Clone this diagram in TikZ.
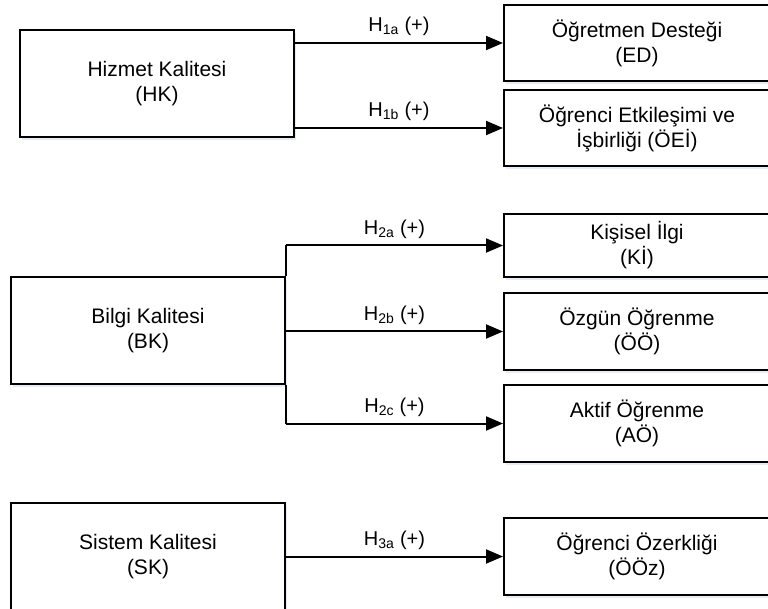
\documentclass[tikz,border=0pt]{standalone}
\usepackage{fontspec}
\setmainfont{Liberation Sans}
\usetikzlibrary{arrows.meta,shadows}
\tikzset{
  box/.style={draw=black, line width=2pt, fill=white, align=center, inner sep=0pt,
    font=\fontsize{21}{25}\selectfont,
    drop shadow={shadow xshift=2pt, shadow yshift=-3pt, fill={rgb,255:red,215;green,222;blue,238}, opacity=0.6}},
  arr/.style={line width=2pt, -{Triangle[length=17pt,width=14pt]}},
  conn/.style={line width=2pt},
  lbl/.style={font=\fontsize{20}{22}\selectfont, inner sep=0pt},
}
\begin{document}
\begin{tikzpicture}[x=1pt,y=-1pt]
\useasboundingbox (0,0) rectangle (768,609);
\clip (0,0) rectangle (768,609);
% left boxes
\node[box, minimum width=274pt, minimum height=107pt] (HK) at (157,83.5) {Hizmet Kalitesi\\(HK)};
\node[box, minimum width=274pt, minimum height=107pt] (BK) at (148,330.5) {Bilgi Kalitesi\\(BK)};
\node[box, minimum width=274pt, minimum height=107pt] (SK) at (148,556.5) {Sistem Kalitesi\\(SK)};
% right boxes
\node[box, minimum width=266pt, minimum height=76pt] (ED) at (637,43) {Öğretmen Desteği\\(ED)};
\node[box, minimum width=266pt, minimum height=76pt] (OEI) at (637,128) {Öğrenci Etkileşimi ve\\İşbirliği (ÖEİ)};
\node[box, minimum width=266pt, minimum height=63pt] (KI) at (637,245.5) {Kişisel İlgi\\(Kİ)};
\node[box, minimum width=266pt, minimum height=77pt] (OO) at (637,331.5) {Özgün Öğrenme\\(ÖÖ)};
\node[box, minimum width=266pt, minimum height=77pt] (AO) at (637,423.5) {Aktif Öğrenme\\(AÖ)};
\node[box, minimum width=266pt, minimum height=77pt] (OOz) at (637,556.5) {Öğrenci Özerkliği\\(ÖÖz)};
% row 1
\draw[arr] (HK.east |- ED.west) -- node[lbl, above=6pt] (l1a) {H\textsubscript{1a} (+)} (ED.west);
\draw[arr] (HK.east |- OEI.west) -- node[lbl, above=6pt] (l1b) {H\textsubscript{1b} (+)} (OEI.west);
% row 2
\draw[conn] (BK.north east) -- (BK.north east |- KI.west);
\draw[conn] (BK.south east) -- (BK.south east |- AO.west);
\draw[arr] (BK.east |- KI.west) -- node[lbl, above=6pt] (l2a) {H\textsubscript{2a} (+)} (KI.west);
\draw[arr] (BK.east |- OO.west) -- node[lbl, above=6pt] (l2b) {H\textsubscript{2b} (+)} (OO.west);
\draw[arr] (BK.east |- AO.west) -- node[lbl, above=6pt] (l2c) {H\textsubscript{2c} (+)} (AO.west);
% row 3
\draw[arr] (SK.east |- OOz.west) -- node[lbl, above=6pt] (l3a) {H\textsubscript{3a} (+)} (OOz.west);
\end{tikzpicture}
\end{document}
